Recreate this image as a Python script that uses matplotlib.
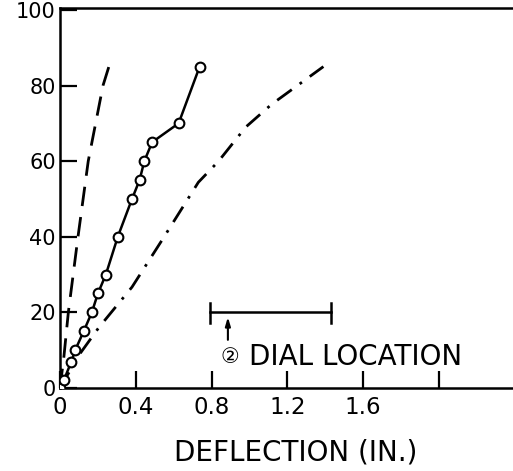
import matplotlib
matplotlib.use("Agg")
import matplotlib.pyplot as plt

# Data
circle_x = [0.0, 0.02, 0.06, 0.08, 0.125, 0.168, 0.20, 0.242, 0.305, 0.38, 0.42, 0.445, 0.486, 0.626, 0.737]
circle_y = [0, 2, 7, 10, 15, 20, 25, 30, 40, 50, 55, 60, 65, 70, 85]

dash_x = [0.0, 0.02, 0.044, 0.095, 0.149, 0.227, 0.258]
dash_y = [0, 8, 20, 40, 60, 80, 85]

dashdot_x = [0.0, 0.10, 0.205, 0.38, 0.537, 0.73, 0.837, 0.98, 1.116, 1.39]
dashdot_y = [0, 8.7, 16, 26.7, 39, 54.4, 60, 69, 75, 85]

xticks = [0, 0.4, 0.8, 1.2, 1.6, 2.0]
xtick_labels = ["0", "0.4", "0.8", "1.2", "1.6", ""]
yticks = [0, 20, 40, 60, 80, 100]
ytick_labels = ["0", "20", "40", "60", "80", "100"]

# scale bar annotation
bar_x = [0.79, 1.43]
bar_y = 20
bar_cap = [17.3, 22.6]
dial_x = 0.886
dial_arrow_y = [12, 19.5]

fig = plt.figure(figsize=(5.13, 4.71), dpi=100)
ax = fig.add_axes([60/513, 1 - 388/471, 453/513, 380/471])

ax.plot(circle_x, circle_y, color="black", lw=1.8, marker="o", markersize=7,
        markerfacecolor="white", markeredgecolor="black", markeredgewidth=1.5, zorder=3)
l1, = ax.plot(dash_x, dash_y, color="black", lw=2.0)
l1.set_dashes((7, 4))
l2, = ax.plot(dashdot_x, dashdot_y, color="black", lw=2.0)
l2.set_dashes((6.5, 3.5, 1, 3.5))

# scale bar
ax.plot(bar_x, [bar_y, bar_y], color="black", lw=1.8)
for bx in bar_x:
    ax.plot([bx, bx], bar_cap, color="black", lw=1.8)
ax.annotate("", xy=(dial_x, dial_arrow_y[1]), xytext=(dial_x, dial_arrow_y[0]),
            arrowprops=dict(arrowstyle="-|>,head_length=0.5,head_width=0.15", color="black", lw=1.5))
ax.text(0.895, 8.1, "②", fontsize=15, ha="center", va="center",
        family=["DejaVu Sans", "Noto Sans CJK SC"])
ax.text(0.995, 8.1, "DIAL LOCATION", fontsize=20, ha="left", va="center")

ax.set_xlim(0, 453 / 189.5)
ax.set_ylim(0, 100.5)
ax.set_xticks(xticks)
ax.set_xticklabels(xtick_labels, fontsize=16.5)
ax.set_yticks(yticks)
ax.set_yticklabels(ytick_labels, fontsize=15)
ax.tick_params(axis="both", direction="in", length=12, width=1.6, pad=6)
ax.tick_params(axis="y", pad=3)
for s in ["left", "bottom", "top"]:
    ax.spines[s].set_linewidth(1.8)
ax.spines["right"].set_visible(False)

ax.set_xlabel("DEFLECTION (IN.)", fontsize=20)
ax.xaxis.set_label_coords((296 - 60) / 453, (388 - 438) / 380)

fig.savefig("out.png", dpi=100)
